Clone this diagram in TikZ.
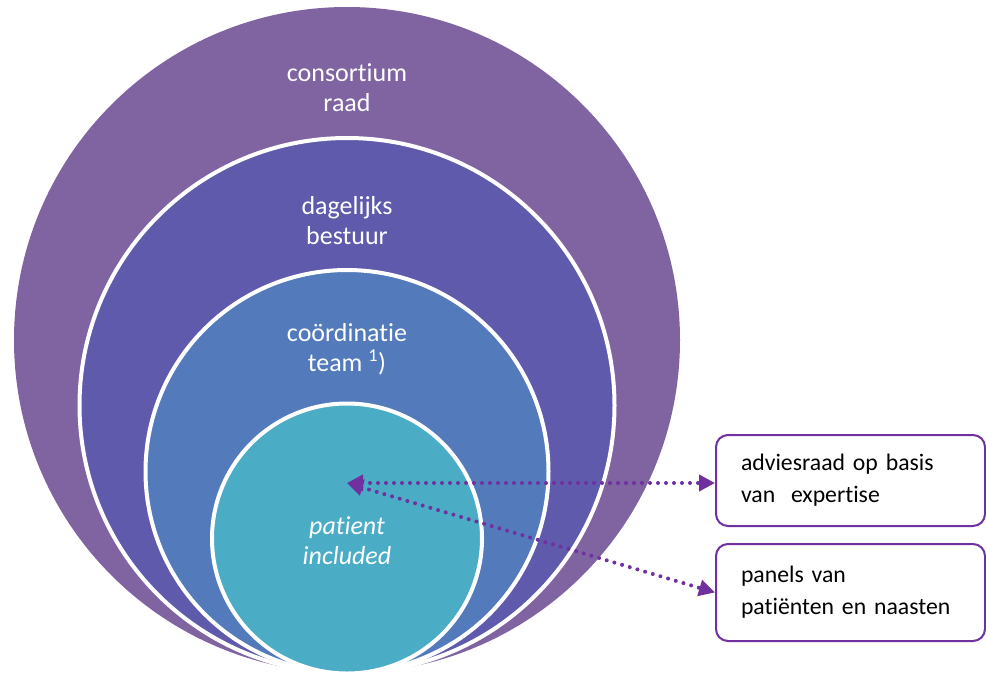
\documentclass[tikz,border=0pt]{standalone}
\usepackage{fontspec}
\setmainfont{Carlito}[Ligatures=NoCommon]
\usetikzlibrary{arrows.meta}
\definecolor{raadpaars}{HTML}{8064A2}
\definecolor{bestuurpaars}{HTML}{5F5AAB}
\definecolor{teamblauw}{HTML}{537BBC}
\definecolor{patientaqua}{HTML}{4BACC6}
\definecolor{panelrand}{HTML}{7030A0}

\begin{document}
\begin{tikzpicture}[
x=0.75pt, y=-0.75pt,
ring/.style={circle, draw=white, line width=3pt, inner sep=0pt},
ringtext/.style={text=white, align=center, font=\fontsize{19.5}{22.5}\selectfont},
panel/.style={draw=panelrand, line width=1.5pt, rounded corners=9pt,
  text width=164.25pt, inner xsep=18.75pt, minimum width=201.75pt, align=left,
  font=\fontsize{17.8}{24}\selectfont},
link/.style={panelrand, line width=3pt, dash pattern=on 0pt off 6pt, line cap=round,
  {Triangle[length=12pt,width=12pt]}-{Triangle[length=12pt,width=12pt]}},
]
\useasboundingbox (0,0) rectangle (986,675);

\node[ring, draw=none, fill=raadpaars, minimum size=499.5pt] (raad) at (347,340) {};
\node[ring, fill=bestuurpaars, minimum size=401.25pt] (bestuur) at (347,405.5) {};
\node[ring, fill=teamblauw, minimum size=302.25pt] (team) at (347,471.5) {};
\node[ring, fill=patientaqua, minimum size=202.5pt] (patient) at (347,538.5) {};

\node[ringtext] (raadlabel) at (347,88) {consortium\\raad};
\node[ringtext] (bestuurlabel) at (347,221) {dagelijks\\bestuur};
\node[ringtext] (teamlabel) at (347,349) {coördinatie\\team \textsuperscript{1})};
\node[ringtext, font=\fontsize{19.5}{22.5}\selectfont\itshape] (patientlabel) at (347,541) {patient\\included};

\node[panel, minimum height=68.25pt] (advies) at (850.5,480.5) {adviesraad op basis\\van\ \ expertise};
\node[panel, minimum height=72.75pt] (panels) at (850.5,592.5) {panels van\\patiënten en naasten};

\coordinate (hub) at (347,483);
\draw[link] (hub) -- (hub -| advies.west);
\draw[link] (hub) -- (panels.west);
\end{tikzpicture}
\end{document}
